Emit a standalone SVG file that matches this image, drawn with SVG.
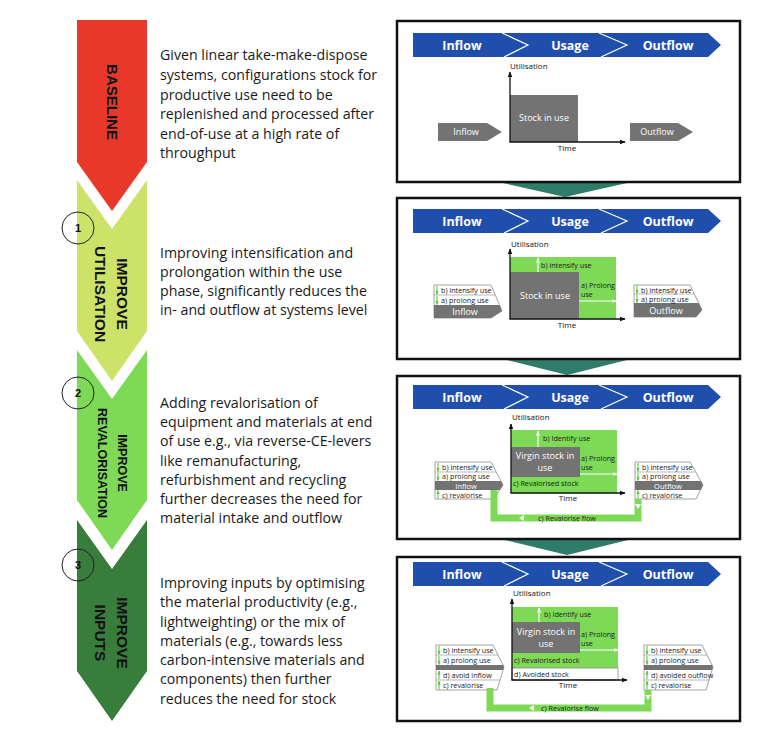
<svg xmlns="http://www.w3.org/2000/svg" width="774" height="750" viewBox="0 0 774 750">
<defs>
<style>
.para{font-family:"Open Sans","Liberation Sans",sans-serif;font-size:14.2px;fill:#1a1a1a}
.stage{font-family:"Liberation Sans",Arial,sans-serif;font-weight:bold;fill:#111}
.num{font-family:"Liberation Sans",Arial,sans-serif;font-weight:bold;font-size:11px;fill:#111;text-anchor:middle}
.bar{fill:#1f4ead}
.bartxt{font-family:"Open Sans","Liberation Sans",sans-serif;font-weight:bold;font-size:12.5px;fill:#fff;text-anchor:middle}
.panel{fill:#fff;stroke:#111;stroke-width:2.5}
.div{fill:none;stroke:#fff;stroke-width:1.2}
.ax{font-family:"Open Sans","Liberation Sans",sans-serif;font-size:8px;fill:#111}
.lbl{font-family:"Open Sans","Liberation Sans",sans-serif;font-size:7.2px;fill:#1a1a1a}
.wl{font-family:"Open Sans","Liberation Sans",sans-serif;font-size:9px;fill:#fff}
.band{font-family:"Open Sans","Liberation Sans",sans-serif;font-size:7.5px;fill:#fff}
.grey{fill:#737373}
.green{fill:#7ed957}
.box{fill:#fff;stroke:#8a8a8a;stroke-width:0.8}
.rowline{stroke:#8a8a8a;stroke-width:0.6}
.axis{stroke:#111;stroke-width:1.3;fill:none}
.warr{stroke:#fff;stroke-width:1.1;fill:none}
.garr{stroke:#5dc73a;stroke-width:1.1;fill:none}
.flow{stroke:#7ed957;stroke-width:7;fill:none}
.teal{fill:#2f7d69}
.circ{fill:none;stroke:#222;stroke-width:1}
</style>
<marker id="ah" viewBox="0 0 10 10" refX="9" refY="5" markerWidth="6" markerHeight="6" markerUnits="userSpaceOnUse" orient="auto"><path d="M0,1 L10,5 L0,9 z" fill="#111"/></marker>
<marker id="wh" viewBox="0 0 10 10" refX="9" refY="5" markerWidth="5" markerHeight="5" markerUnits="userSpaceOnUse" orient="auto"><path d="M0,1 L10,5 L0,9 z" fill="#fff"/></marker>
<marker id="gh" viewBox="0 0 10 10" refX="9" refY="5" markerWidth="4" markerHeight="4" markerUnits="userSpaceOnUse" orient="auto"><path d="M0,1 L10,5 L0,9 z" fill="#5dc73a"/></marker>
<clipPath id="c2i"><polygon points="434,285 491,285 502,311 491,318 434,318"/></clipPath>
<clipPath id="c2o"><polygon points="634,285 690,285 702,310 696,317 634,317"/></clipPath>
<clipPath id="c3i"><polygon points="435,462 491,462 503,485 494,499 435,499"/></clipPath>
<clipPath id="c3o"><polygon points="635,462 690,462 703,485 696,499 635,499"/></clipPath>
<clipPath id="c4i"><polygon points="436,645 493,645 504,667 497,690 436,690"/></clipPath>
<clipPath id="c4o"><polygon points="644,645 702,645 713,667 706,690 644,690"/></clipPath>
</defs>
<rect x="0" y="0" width="774" height="750" fill="#fff"/>

<!-- Left stage chevrons -->
<g id="stage-baseline">
<polygon points="77,20 147,20 147,162 112,211 77,162" fill="#e8382a"/>
<text class="stage" font-size="15" text-anchor="middle" transform="translate(112,102) rotate(90)" y="5.2">BASELINE</text>
</g>
<g id="stage-utilisation">
<polygon points="77,180 112,229 147,180 147,331 112,381 77,331" fill="#cde268"/>
<text class="stage" font-size="15.5" text-anchor="middle" transform="translate(112,294) rotate(90)"><tspan x="0" y="-4.5">IMPROVE</tspan><tspan x="0" y="17.5">UTILISATION</tspan></text>
<circle class="circ" cx="78" cy="228" r="16"/>
<text class="num" x="78" y="232">1</text>
</g>
<g id="stage-revalorisation">
<polygon points="77,350 112,399 147,350 147,500 112,550 77,500" fill="#7ed957"/>
<text class="stage" font-size="12.5" text-anchor="middle" transform="translate(112,463) rotate(90)"><tspan x="0" y="-5.5">IMPROVE</tspan><tspan x="0" y="14.5">REVALORISATION</tspan></text>
<circle class="circ" cx="78" cy="393" r="16"/>
<text class="num" x="78" y="397">2</text>
</g>
<g id="stage-inputs">
<polygon points="77,520 112,569 147,520 147,671 112,721 77,671" fill="#387d3c"/>
<text class="stage" font-size="15.5" text-anchor="middle" transform="translate(112,633) rotate(90)"><tspan x="0" y="-4.5">IMPROVE</tspan><tspan x="0" y="17.5">INPUTS</tspan></text>
<circle class="circ" cx="78" cy="565" r="16"/>
<text class="num" x="78" y="569">3</text>
</g>

<!-- Descriptions -->
<g id="text-baseline">
<text class="para"><tspan x="160" y="60">Given linear take-make-dispose</tspan><tspan x="160" y="80">systems, configurations stock for</tspan><tspan x="160" y="100">productive use need to be</tspan><tspan x="160" y="119">replenished and processed after</tspan><tspan x="160" y="139">end-of-use at a high rate of</tspan><tspan x="160" y="158">throughput</tspan></text>
</g>
<g id="text-utilisation">
<text class="para"><tspan x="160" y="258">Improving intensification and</tspan><tspan x="160" y="277">prolongation within the use</tspan><tspan x="160" y="296">phase, significantly reduces the</tspan><tspan x="160" y="315">in- and outflow at systems level</tspan></text>
</g>
<g id="text-revalorisation">
<text class="para"><tspan x="160" y="408">Adding revalorisation of</tspan><tspan x="160" y="427">equipment and materials at end</tspan><tspan x="160" y="446">of use e.g., via reverse-CE-levers</tspan><tspan x="160" y="466">like remanufacturing,</tspan><tspan x="160" y="485">refurbishment and recycling</tspan><tspan x="160" y="504">further decreases the need for</tspan><tspan x="160" y="523">material intake and outflow</tspan></text>
</g>
<g id="text-inputs">
<text class="para"><tspan x="160" y="588">Improving inputs by optimising</tspan><tspan x="160" y="607">the material productivity (e.g.,</tspan><tspan x="160" y="627">lightweighting) or the mix of</tspan><tspan x="160" y="646">materials (e.g., towards less</tspan><tspan x="160" y="665">carbon-intensive materials and</tspan><tspan x="160" y="684">components) then further</tspan><tspan x="160" y="704">reduces the need for stock</tspan></text>
</g>

<!-- Connectors between panels -->
<g id="connectors">
<polygon class="teal" points="503,183 627,183 565,197"/>
<polygon class="teal" points="507,360 627,360 567,375"/>
<polygon class="teal" points="505,540 628,540 567,555"/>
</g>

<!-- Panel 1 -->
<g id="panel-baseline">
<rect class="panel" x="397" y="21" width="343" height="161"/>
<polygon class="bar" points="413,33 708,33 721,45 708,57 413,57"/>
<polyline class="div" points="502,33 528,45 504,57"/>
<polyline class="div" points="599,33 627,45 601,57"/>
<text class="bartxt" x="462" y="49.5">Inflow</text>
<text class="bartxt" x="570" y="49.5">Usage</text>
<text class="bartxt" x="668" y="49.5">Outflow</text>
<rect class="grey" x="510" y="95" width="68" height="47"/>
<text class="wl" x="544" y="121" text-anchor="middle">Stock in use</text>
<line class="axis" x1="510" y1="142" x2="510" y2="72" marker-end="url(#ah)"/>
<line class="axis" x1="509.4" y1="142" x2="625" y2="142" marker-end="url(#ah)"/>
<text class="ax" x="510" y="69">Utilisation</text>
<text class="ax" x="567" y="151" text-anchor="middle">Time</text>
<polygon class="grey" points="438,123 487,123 502,132 487,141 438,141"/>
<text class="wl" x="466" y="135" text-anchor="middle">Inflow</text>
<polygon class="grey" points="630,123 678,123 693,132 678,141 630,141"/>
<text class="wl" x="657" y="135" text-anchor="middle">Outflow</text>
</g>

<!-- Panel 2 -->
<g id="panel-utilisation">
<rect class="panel" x="397" y="198" width="343" height="161"/>
<polygon class="bar" points="413,209 708,209 721,221 708,233 413,233"/>
<polyline class="div" points="502,209 528,221 504,233"/>
<polyline class="div" points="599,209 627,221 601,233"/>
<text class="bartxt" x="462" y="225.5">Inflow</text>
<text class="bartxt" x="570" y="225.5">Usage</text>
<text class="bartxt" x="668" y="225.5">Outflow</text>
<rect class="green" x="510" y="257" width="106" height="62"/>
<rect class="grey" x="510" y="272" width="69" height="47"/>
<text class="wl" x="545" y="299" text-anchor="middle" font-size="9.5">Stock in use</text>
<line class="warr" x1="538" y1="272" x2="538" y2="258" marker-end="url(#wh)"/>
<line class="warr" x1="579" y1="301" x2="616" y2="301" marker-end="url(#wh)"/>
<text class="lbl" x="541" y="268">b) intensify use</text>
<text class="lbl" x="581" y="288" font-size="7.5">a) Prolong</text>
<text class="lbl" x="581" y="297" font-size="7.5">use</text>
<line class="axis" x1="510" y1="319" x2="510" y2="249" marker-end="url(#ah)"/>
<line class="axis" x1="509.4" y1="319" x2="625" y2="319" marker-end="url(#ah)"/>
<text class="ax" x="511" y="247">Utilisation</text>
<text class="ax" x="567" y="328" text-anchor="middle">Time</text>
<g id="p2-inflow">
<polygon class="box" points="434,285 491,285 502,311 491,318 434,318"/>
<rect class="grey" x="430" y="305" width="80" height="15" clip-path="url(#c2i)"/>
<line class="rowline" x1="434" y1="295" x2="495" y2="295"/>
<line class="garr" x1="437" y1="286" x2="437" y2="294.5" marker-end="url(#gh)"/>
<line class="garr" x1="437" y1="296" x2="437" y2="304.5" marker-end="url(#gh)"/>
<text class="lbl" x="441" y="293">b) intensify use</text>
<text class="lbl" x="441" y="303">a) prolong use</text>
<text class="wl" x="465" y="315" text-anchor="middle">Inflow</text>
</g>
<g id="p2-outflow">
<polygon class="box" points="634,285 690,285 702,310 696,317 634,317"/>
<rect class="grey" x="630" y="303" width="80" height="16" clip-path="url(#c2o)"/>
<line class="rowline" x1="634" y1="294" x2="694" y2="294"/>
<line class="garr" x1="637" y1="285.5" x2="637" y2="293.5" marker-end="url(#gh)"/>
<line class="garr" x1="637" y1="294.5" x2="637" y2="302.5" marker-end="url(#gh)"/>
<text class="lbl" x="641" y="292.5">b) intensify use</text>
<text class="lbl" x="641" y="301.5">a) prolong use</text>
<text class="wl" x="666" y="314" text-anchor="middle">Outflow</text>
</g>
</g>

<!-- Panel 3 -->
<g id="panel-revalorisation">
<rect class="panel" x="397" y="376" width="343" height="163"/>
<polygon class="bar" points="413,385 708,385 721,397 708,409 413,409"/>
<polyline class="div" points="502,385 528,397 504,409"/>
<polyline class="div" points="599,385 627,397 601,409"/>
<text class="bartxt" x="462" y="401.5">Inflow</text>
<text class="bartxt" x="570" y="401.5">Usage</text>
<text class="bartxt" x="668" y="401.5">Outflow</text>
<rect class="green" x="511" y="430" width="106" height="63"/>
<rect class="grey" x="511" y="447" width="69" height="30"/>
<text class="wl" x="545" y="459" text-anchor="middle">Virgin stock in</text>
<text class="wl" x="545" y="471" text-anchor="middle">use</text>
<line class="warr" x1="538" y1="447" x2="538" y2="431" marker-end="url(#wh)"/>
<line class="warr" x1="580" y1="474" x2="617" y2="474" marker-end="url(#wh)"/>
<text class="lbl" x="543" y="441">b) Identify use</text>
<text class="lbl" x="581" y="461" font-size="7.5">a) Prolong</text>
<text class="lbl" x="581" y="470" font-size="7.5">use</text>
<text class="lbl" x="513" y="486">c) Revalorised stock</text>
<line class="axis" x1="511" y1="493" x2="511" y2="424" marker-end="url(#ah)"/>
<line class="axis" x1="510.4" y1="493" x2="625" y2="493" marker-end="url(#ah)"/>
<text class="ax" x="512" y="420">Utilisation</text>
<text class="ax" x="568" y="501" text-anchor="middle">Time</text>
<g id="p3-inflow">
<polygon class="box" points="435,462 491,462 503,485 494,499 435,499"/>
<rect class="grey" x="430" y="481" width="80" height="9" clip-path="url(#c3i)"/>
<line class="rowline" x1="435" y1="472" x2="496" y2="472"/>
<line class="garr" x1="438" y1="463" x2="438" y2="471.5" marker-end="url(#gh)"/>
<line class="garr" x1="438" y1="473" x2="438" y2="480.5" marker-end="url(#gh)"/>
<line class="garr" x1="438" y1="498.5" x2="438" y2="490.5" marker-end="url(#gh)"/>
<text class="lbl" x="442" y="469.8">b) intensify use</text>
<text class="lbl" x="442" y="478.6">a) prolong use</text>
<text class="band" x="466" y="488.8" text-anchor="middle">Inflow</text>
<text class="lbl" x="442" y="497.5">c) revalorise</text>
</g>
<g id="p3-outflow">
<polygon class="box" points="635,462 690,462 703,485 696,499 635,499"/>
<rect class="grey" x="630" y="481" width="80" height="9" clip-path="url(#c3o)"/>
<line class="rowline" x1="635" y1="472" x2="695" y2="472"/>
<line class="garr" x1="638" y1="463" x2="638" y2="471.5" marker-end="url(#gh)"/>
<line class="garr" x1="638" y1="473" x2="638" y2="480.5" marker-end="url(#gh)"/>
<line class="garr" x1="638" y1="498.5" x2="638" y2="490.5" marker-end="url(#gh)"/>
<text class="lbl" x="642" y="469.8">b) intensify use</text>
<text class="lbl" x="642" y="478.6">a) prolong use</text>
<text class="band" x="668" y="488.8" text-anchor="middle">Outflow</text>
<text class="lbl" x="642" y="497.5">c) revalorise</text>
</g>
<g id="p3-flow">
<polyline class="flow" points="638,499 638,518 494,518 494,490"/>
<polygon points="519,518 524,515 524,521" fill="#fff"/>
<polygon points="638,509 635,504 641,504" fill="#fff"/>
<text class="lbl" x="567" y="520.5" text-anchor="middle" font-size="7">c) Revalorise flow</text>
</g>
</g>

<!-- Panel 4 -->
<g id="panel-inputs">
<rect class="panel" x="397" y="557" width="343" height="164"/>
<polygon class="bar" points="413,562 708,562 721,574 708,586 413,586"/>
<polyline class="div" points="502,562 528,574 504,586"/>
<polyline class="div" points="599,562 627,574 601,586"/>
<text class="bartxt" x="462" y="578.5">Inflow</text>
<text class="bartxt" x="570" y="578.5">Usage</text>
<text class="bartxt" x="668" y="578.5">Outflow</text>
<rect class="green" x="512" y="607" width="106" height="61"/>
<rect x="512" y="668" width="106" height="12" fill="#fff" stroke="#8a8a8a" stroke-width="0.8"/>
<rect class="grey" x="512" y="622" width="68" height="31"/>
<text class="wl" x="546" y="635" text-anchor="middle">Virgin stock in</text>
<text class="wl" x="546" y="647" text-anchor="middle">use</text>
<line class="warr" x1="539" y1="622" x2="539" y2="608" marker-end="url(#wh)"/>
<line class="warr" x1="580" y1="650" x2="618" y2="650" marker-end="url(#wh)"/>
<text class="lbl" x="544" y="617">b) Identify use</text>
<text class="lbl" x="581" y="637" font-size="7.5">a) Prolong</text>
<text class="lbl" x="581" y="646" font-size="7.5">use</text>
<text class="lbl" x="514" y="663">c) Revalorised stock</text>
<text class="lbl" x="514" y="676.5">d) Avoided stock</text>
<line class="axis" x1="512" y1="680" x2="512" y2="599" marker-end="url(#ah)"/>
<line class="axis" x1="511.4" y1="680" x2="627" y2="680" marker-end="url(#ah)"/>
<text class="ax" x="513" y="596">Utilisation</text>
<text class="ax" x="568" y="688" text-anchor="middle">Time</text>
<g id="p4-inflow">
<polygon class="box" points="436,645 493,645 504,667 497,690 436,690"/>
<rect class="grey" x="430" y="665" width="80" height="5" clip-path="url(#c4i)"/>
<line class="rowline" x1="436" y1="655" x2="498" y2="655"/>
<line class="rowline" x1="436" y1="680" x2="500" y2="680"/>
<line class="garr" x1="439" y1="646" x2="439" y2="654.5" marker-end="url(#gh)"/>
<line class="garr" x1="439" y1="656" x2="439" y2="664.5" marker-end="url(#gh)"/>
<line class="garr" x1="439" y1="679.5" x2="439" y2="671" marker-end="url(#gh)"/>
<line class="garr" x1="439" y1="689.5" x2="439" y2="681" marker-end="url(#gh)"/>
<text class="lbl" x="443" y="653">b) intensify use</text>
<text class="lbl" x="443" y="663">a) prolong use</text>
<text class="lbl" x="443" y="678">d) avoid inflow</text>
<text class="lbl" x="443" y="688">c) revalorise</text>
</g>
<g id="p4-outflow">
<polygon class="box" points="644,645 702,645 713,667 706,690 644,690"/>
<rect class="grey" x="640" y="665" width="80" height="5" clip-path="url(#c4o)"/>
<line class="rowline" x1="644" y1="655" x2="707" y2="655"/>
<line class="rowline" x1="644" y1="680" x2="709" y2="680"/>
<line class="garr" x1="647" y1="646" x2="647" y2="654.5" marker-end="url(#gh)"/>
<line class="garr" x1="647" y1="656" x2="647" y2="664.5" marker-end="url(#gh)"/>
<line class="garr" x1="647" y1="679.5" x2="647" y2="671" marker-end="url(#gh)"/>
<line class="garr" x1="647" y1="689.5" x2="647" y2="681" marker-end="url(#gh)"/>
<text class="lbl" x="651" y="653">b) intensify use</text>
<text class="lbl" x="651" y="663">a) prolong use</text>
<text class="lbl" x="651" y="678">d) avoided outflow</text>
<text class="lbl" x="651" y="688">c) revalorise</text>
</g>
<g id="p4-flow">
<polyline class="flow" points="648,690 648,708 490,708 490,688"/>
<polygon points="529,708 534,705 534,711" fill="#fff"/>
<polygon points="648,700 645,695 651,695" fill="#fff"/>
<text class="lbl" x="570" y="710.5" text-anchor="middle" font-size="7">c) Revalorise flow</text>
</g>
</g>
</svg>
